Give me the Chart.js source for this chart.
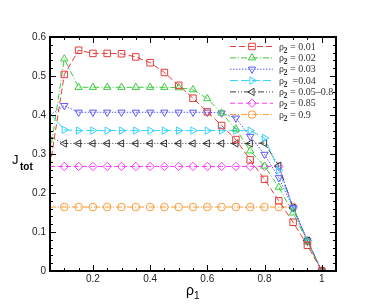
<!DOCTYPE html>
<html>
<head>
<meta charset="utf-8">
<script src="https://cdn.jsdelivr.net/npm/chart.js@4/dist/chart.umd.min.js"></script>
<style>
html,body{margin:0;padding:0;background:#fff;}
canvas{display:block;}
</style>
</head>
<body>
<canvas id="c" width="382" height="306"></canvas>
<script>
// rho_1 values
const rho1 = [0.05,0.1,0.15,0.2,0.25,0.3,0.35,0.4,0.45,0.5,0.55,0.6,0.65,0.7,0.75,0.8,0.85,0.9,0.95,1.0];
// J_tot for each rho_2
const j001 = [0.27,0.504,0.566,0.558,0.558,0.557,0.549,0.534,0.509,0.476,0.443,0.408,0.373,0.337,0.285,0.235,0.18,0.125,0.066,0.0];
const j002 = [0.30,0.544,0.471,0.471,0.471,0.471,0.471,0.471,0.471,0.470,0.465,0.442,0.405,0.364,0.308,0.269,0.215,0.149,0.075,0.0];
const j003 = [0.40,0.424,0.407,0.407,0.407,0.407,0.407,0.407,0.407,0.407,0.407,0.407,0.405,0.392,0.345,0.299,0.239,0.162,0.078,0.0];
const j004 = [0.405,0.362,0.36,0.36,0.36,0.36,0.36,0.36,0.36,0.36,0.36,0.36,0.36,0.36,0.36,0.341,0.258,0.162,0.078,0.0];
const j005_08 = [0.345,0.327,0.327,0.327,0.327,0.327,0.327,0.327,0.327,0.327,0.327,0.327,0.327,0.327,0.327,0.328,0.27,0.162,0.078,0.0];
const j085 = [0.268,0.268,0.268,0.268,0.268,0.268,0.268,0.268,0.268,0.268,0.268,0.268,0.268,0.268,0.268,0.268,0.268,0.162,0.078,0.0];
const j09 = [0.164,0.164,0.164,0.164,0.164,0.164,0.164,0.164,0.164,0.164,0.164,0.164,0.164,0.164,0.164,0.164,0.164,0.164,0.078,0.0];
// legend labels (value part after rho_2)
const legendValues = [" = 0.01"," = 0.02"," = 0.03","  =0.04"," = 0.05\u20130.8"," = 0.85"," = 0.9"];
// tick labels
const xTickValues = [0.2,0.4,0.6,0.8,1.0];
const xTickLabels = ["0.2","0.4","0.6","0.8","1"];
const yTickValues = [0,0.1,0.2,0.3,0.4,0.5,0.6];
const yTickLabels = ["0","0.1","0.2","0.3","0.4","0.5","0.6"];

const seriesList = [j001,j002,j003,j004,j005_08,j085,j09];
const colors = ['#e63c3c','#3ccc3c','#5a5aff','#33d4ff','#3a3a3a','#ff3cff','#ff9a33'];
const dashes = [[6,3],[6,2,1,2],[1.5,1.5],[8,3],[6,2,1,2,1,2],[5,3],[6,2,1,2]];
const styles = ['rect','triangle','triangle','triangle','triangle','rectRot','circle'];
const rots = [0,0,180,90,-90,0,0];
const radii = [4.6,4.2,4.2,4.2,4.2,4.2,3.8];

const datasets = seriesList.map((s,i)=>({
  data: rho1.map((x,k)=>({x:x,y:s[k]})),
  borderColor: colors[i],
  backgroundColor: 'rgba(0,0,0,0)',
  borderWidth: 1,
  borderDash: dashes[i],
  pointStyle: styles[i],
  pointRotation: rots[i],
  pointRadius: rho1.map((x,k)=> k===0 ? 0 : radii[i]),
  pointBorderColor: colors[i],
  pointBackgroundColor: 'rgba(0,0,0,0)',
  pointBorderWidth: 1,
  tension: 0
}));

function drawMarker(ctx, style, rot, r, x, y){
  ctx.save();
  ctx.setLineDash([]);
  ctx.translate(x,y);
  ctx.rotate(rot*Math.PI/180);
  ctx.beginPath();
  if(style==='rect'){
    const s=Math.SQRT1_2*r; ctx.rect(-s,-s,2*s,2*s);
  } else if(style==='triangle'){
    for(let k=0;k<3;k++){
      const a=-Math.PI/2 + k*2*Math.PI/3;
      const px=Math.cos(a)*r, py=Math.sin(a)*r;
      if(k===0) ctx.moveTo(px,py); else ctx.lineTo(px,py);
    }
    ctx.closePath();
  } else if(style==='rectRot'){
    ctx.moveTo(0,-r);ctx.lineTo(r,0);ctx.lineTo(0,r);ctx.lineTo(-r,0);ctx.closePath();
  } else {
    ctx.arc(0,0,r,0,Math.PI*2);
  }
  ctx.stroke();
  ctx.restore();
}

const framePlugin = {
  id:'frame',
  afterDatasetsDraw(chart){
    const ctx=chart.ctx, a=chart.chartArea, xs=chart.scales.x, ys=chart.scales.y;
    ctx.save();
    ctx.strokeStyle='#000';
    ctx.setLineDash([]);
    // ticks
    ctx.lineWidth=1;
    ctx.beginPath();
    for(let v=0.05; v<=1.0501; v+=0.05){
      const vv=Math.round(v*100)/100;
      const major = Math.abs(vv*10 - Math.round(vv*10))<1e-6 && Math.round(vv*10)%2===0;
      const L = major?6:3;
      const px=Math.round(xs.getPixelForValue(vv))+0.5;
      ctx.moveTo(px,a.bottom); ctx.lineTo(px,a.bottom-L);
      ctx.moveTo(px,a.top); ctx.lineTo(px,a.top+L);
    }
    for(let v=0; v<=0.6001; v+=0.02){
      const vv=Math.round(v*100)/100;
      const major = Math.abs(vv*10 - Math.round(vv*10))<1e-6;
      const L = major?6:3;
      const py=Math.round(ys.getPixelForValue(vv))+0.5;
      ctx.moveTo(a.left,py); ctx.lineTo(a.left+L,py);
      ctx.moveTo(a.right,py); ctx.lineTo(a.right-L,py);
    }
    ctx.stroke();
    ctx.lineWidth=2;
    ctx.strokeRect(a.left,a.top,a.right-a.left,a.bottom-a.top);

    // legend
    const lx0=230, lx1=273, mx=252, tx=279, y0=46.5, dy=11.35;
    for(let i=0;i<seriesList.length;i++){
      const y=y0+i*dy;
      ctx.strokeStyle=colors[i];
      ctx.lineWidth=1;
      ctx.setLineDash(dashes[i]);
      ctx.beginPath(); ctx.moveTo(lx0,y); ctx.lineTo(lx1,y); ctx.stroke();
      drawMarker(ctx, styles[i], rots[i], radii[i], mx, y);
      ctx.fillStyle='#333';
      ctx.textBaseline='alphabetic';
      ctx.textAlign='left';
      ctx.font='10px "Liberation Serif", serif';
      ctx.fillText('\u03c1', tx, y+3);
      const w=ctx.measureText('\u03c1').width;
      ctx.font='bold 8px "Liberation Serif", serif';
      ctx.fillText('2', tx+w-0.5, y+6);
      const w2=ctx.measureText('2').width;
      ctx.font='10px "Liberation Serif", serif';
      ctx.fillText(legendValues[i], tx+w+w2-0.5, y+3);
    }

    // axis titles
    ctx.fillStyle='#000';
    ctx.font='13px "Liberation Sans", Arial, sans-serif';
    ctx.fillText('J', 12, 164);
    ctx.font='bold 10px "Liberation Sans", Arial, sans-serif';
    ctx.fillText('tot', 20, 170);
    ctx.font='14px "Liberation Sans", Arial, sans-serif';
    ctx.fillText('\u03c1', 186, 295);
    const wr=ctx.measureText('\u03c1').width;
    ctx.font='10px "Liberation Sans", Arial, sans-serif';
    ctx.fillText('1', 186+wr, 299);
    ctx.restore();
  }
};

new Chart(document.getElementById('c'), {
  type:'line',
  data:{datasets},
  options:{
    responsive:false,
    animation:false,
    devicePixelRatio:1,
    layout:{padding:{top:37,right:46,left:0,bottom:0}},
    plugins:{legend:{display:false},tooltip:{enabled:false}},
    scales:{
      x:{
        type:'linear', min:0.05, max:1.05,
        grid:{display:false, drawTicks:false}, border:{display:false},
        afterBuildTicks(s){ s.ticks = xTickValues.map(v=>({value:v})); },
        afterFit(s){ s.height=35; },
        ticks:{
          padding:2, color:'#222', maxRotation:0, autoSkip:false,
          font:{family:'"Liberation Sans", Arial, sans-serif', size:10},
          callback:(v)=>{ const i=xTickValues.findIndex(t=>Math.abs(t-v)<1e-6); return i>=0?xTickLabels[i]:''; }
        }
      },
      y:{
        min:0, max:0.6,
        grid:{display:false, drawTicks:false}, border:{display:false},
        afterBuildTicks(s){ s.ticks = yTickValues.map(v=>({value:v})); },
        afterFit(s){ s.width=50; },
        ticks:{
          padding:4, color:'#222', autoSkip:false,
          font:{family:'"Liberation Sans", Arial, sans-serif', size:10},
          callback:(v)=>{ const i=yTickValues.findIndex(t=>Math.abs(t-v)<1e-6); return i>=0?yTickLabels[i]:''; }
        }
      }
    }
  },
  plugins:[framePlugin]
});
</script>
</body>
</html>
